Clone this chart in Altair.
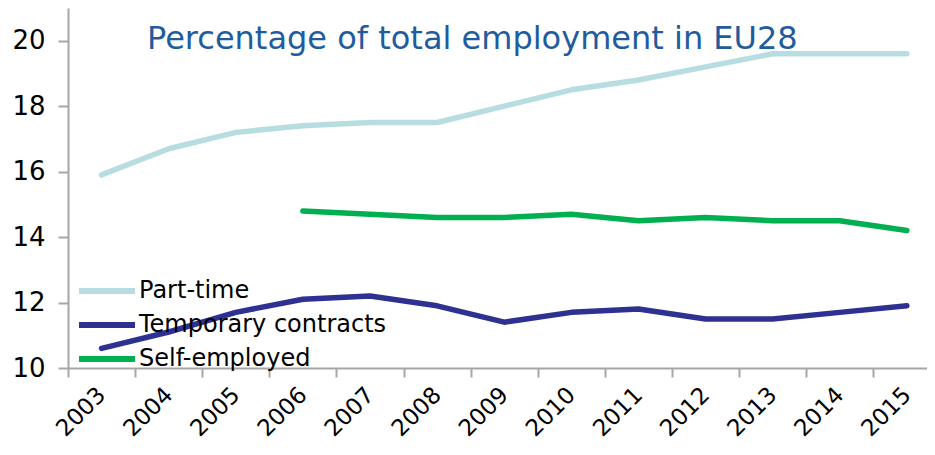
import altair as alt
import pandas as pd

years = list(range(2003, 2016))
part_time = [15.9, 16.7, 17.2, 17.4, 17.5, 17.5, 18.0, 18.5, 18.8, 19.2, 19.6, 19.6, 19.6]
temporary = [10.6, 11.1, 11.7, 12.1, 12.2, 11.9, 11.4, 11.7, 11.8, 11.5, 11.5, 11.7, 11.9]
self_years = list(range(2006, 2016))
self_employed = [14.8, 14.7, 14.6, 14.6, 14.7, 14.5, 14.6, 14.5, 14.5, 14.2]

series = ["Part-time", "Temporary contracts", "Self-employed"]
colors = ["#b7dde1", "#2e3192", "#00b050"]
title_text = "Percentage of total employment in EU28"
y_ticks = [10, 12, 14, 16, 18, 20]
tick_years = [y - 0.5 for y in years]

rows = []
for y, v in zip(years, part_time):
    rows.append({"year": y, "value": v, "series": series[0]})
for y, v in zip(years, temporary):
    rows.append({"year": y, "value": v, "series": series[1]})
for y, v in zip(self_years, self_employed):
    rows.append({"year": y, "value": v, "series": series[2]})
df = pd.DataFrame(rows)

FONT = "DejaVu Sans"
GRAY = "#a6a6a6"

lines = alt.Chart(df).mark_line(strokeWidth=5.5, strokeCap="round", strokeJoin="round").encode(
    x=alt.X("year:Q",
            scale=alt.Scale(domain=[2002.5, 2015.3], nice=False, zero=False),
            axis=alt.Axis(values=tick_years, title=None, grid=False,
                          labelExpr="format(datum.value + 0.5, 'd')",
                          labelOffset=33.5, labelAngle=-45, labelAlign="right",
                          labelBaseline="middle", labelPadding=14,
                          labelFontSize=23, labelFont=FONT, labelColor="#000000",
                          labelOverlap=False, labelFlush=False, labelBound=False,
                          tickSize=9, tickWidth=2, tickColor=GRAY,
                          domainColor=GRAY, domainWidth=2)),
    y=alt.Y("value:Q",
            scale=alt.Scale(domain=[10, 21], nice=False, zero=False),
            axis=alt.Axis(values=y_ticks, title=None, grid=False,
                          labelFontSize=26, labelFont=FONT, labelColor="#000000",
                          labelPadding=13, tickSize=10, tickWidth=2, tickColor=GRAY,
                          domainColor=GRAY, domainWidth=2)),
    color=alt.Color("series:N",
                    scale=alt.Scale(domain=series, range=colors),
                    legend=alt.Legend(title=None, orient="none", legendX=22, legendY=266,
                                      symbolType="M-2,0H2", symbolSize=784,
                                      symbolStrokeWidth=6, labelFontSize=24,
                                      labelFont=FONT, labelColor="#000000",
                                      labelLimit=400, labelOffset=15, rowPadding=5)),
    detail="series:N",
)

title = alt.Chart(pd.DataFrame({"t": [title_text]})).mark_text(
    align="left", baseline="alphabetic", fontSize=32, font=FONT, color="#1f5c9e"
).encode(x=alt.value(79), y=alt.value(41), text="t:N")

chart = alt.layer(lines, title).properties(
    width=859, height=360, autosize="none",
    padding={"left": 60, "top": 0, "right": 0, "bottom": 78},
).configure_view(stroke=None)

chart.save("out.html", embed_options={"renderer": "svg", "actions": False})
